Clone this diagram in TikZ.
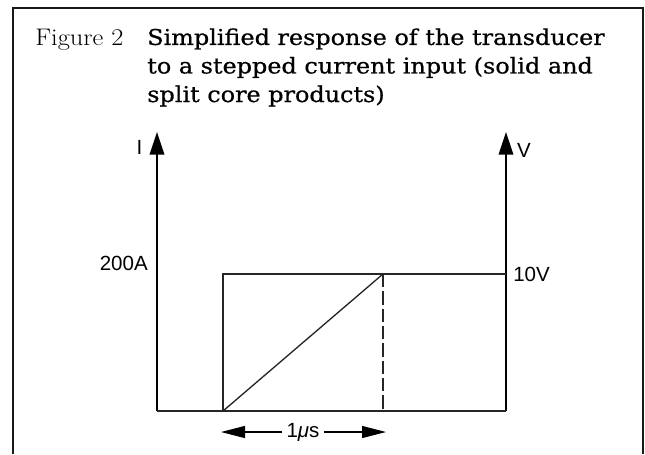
\documentclass[tikz,border=0pt]{standalone}
\usepackage{fontspec}
\usetikzlibrary{arrows.meta,positioning}
\newfontfamily\titlefont[FakeStretch=1.1,FakeBold=0.6]{DejaVu Serif}
\newfontfamily\labelfont{Liberation Sans}

\begin{document}
\begin{tikzpicture}[
  x=0.75pt, y=-0.75pt,
  font=\labelfont\fontsize{15.4}{18}\selectfont,
  frame/.style={line width=2.2pt,draw=black!90},
  axis/.style={line width=1.1pt,-{Triangle[length=17pt,width=11pt]}},
  trace/.style={line width=1pt,draw=black!85},
  cutoff/.style={line width=1pt,draw=black!85,dash pattern=on 10pt off 3pt},
  dim/.style={line width=0.9pt,-{Triangle[length=18pt,width=9pt]}},
  lbl/.style={inner sep=0pt}
]
\useasboundingbox (0,0) rectangle (645,454);
\draw[frame] (13,454) -- (13,8) -- (643,8) -- (643,454);

\node[anchor=base west,inner sep=0pt,font=\rmfamily\fontsize{18}{21.4}\selectfont] (fig) at (35,45) {\scalebox{1.1}[1]{Figure 2}};
\node[anchor=base west,inner sep=0pt,align=left,font=\titlefont\fontsize{16.3}{21.4}\selectfont] (title) at (147,102)
  {Simplified response of the transducer\\to a stepped current input (solid and\\split core products)};

\coordinate (O) at (157,411);
\coordinate (Itop) at (157,132);
\coordinate (R) at (506,411);
\coordinate (Vtop) at (506,132);
\coordinate (t0) at (223,411);
\coordinate (t0top) at (223,274);
\coordinate (t1) at (383,411);
\coordinate (t1top) at (383,274);
\coordinate (Rtop) at (506,274);

\draw[axis] (O) -- (Itop);
\draw[axis] (R) -- (Vtop);
\draw[trace] (O) -- (R);
\draw[trace] (t0) -- (t0top) -- (Rtop);
\draw[trace] (t0) -- (t1top);
\draw[cutoff] (t1top) -- (t1);

\node[lbl,anchor=base] (ilbl) at (139.5,154) {I};
\node[lbl,anchor=base] (vlbl) at (524,157) {V};
\node[lbl,anchor=base east] (amp) at (148,270) {200A};
\node[lbl,anchor=west] (volt) at (513,274) {10V};

\node[inner xsep=3pt,inner ysep=0pt] (mu) at (303,432) {1{\itshape μ}s};
\coordinate (dl) at (221,432);
\coordinate (dr) at (386,432);
\draw[dim] (mu.west) -- (dl);
\draw[dim] (mu.east) -- (dr);
\end{tikzpicture}
\end{document}
